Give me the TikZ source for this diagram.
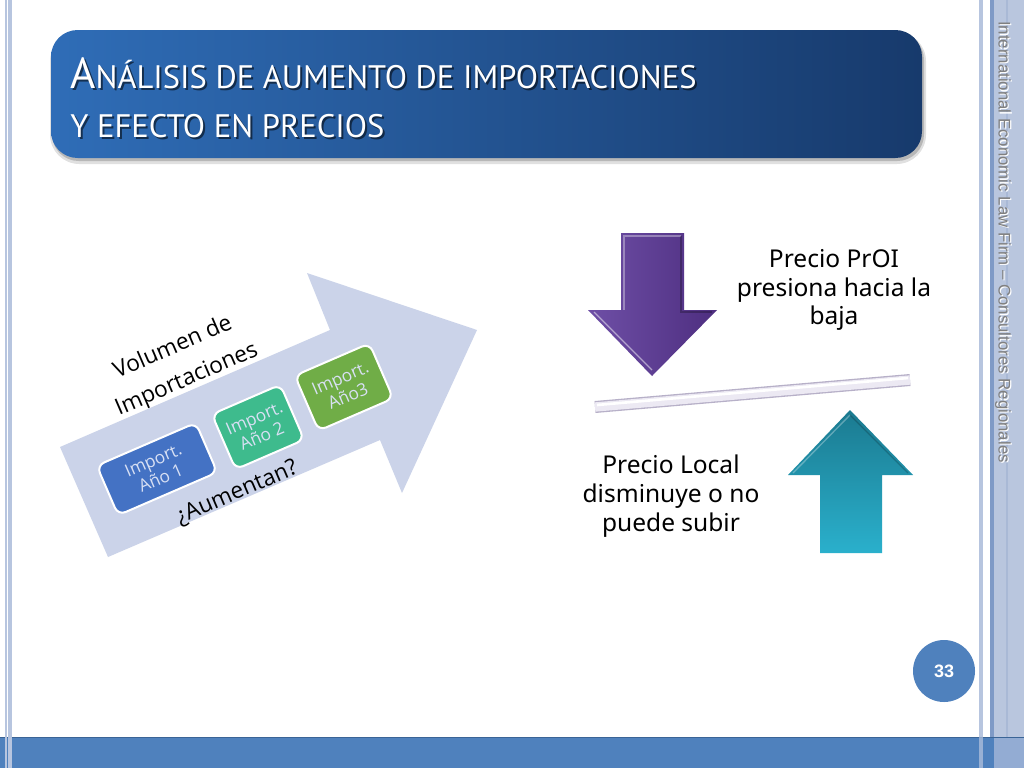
\documentclass[tikz,border=0pt]{standalone}
\usepackage{fontspec}
\usetikzlibrary{calc}
\setmainfont{Open Sans}
\newfontfamily\titlefont{PT Sans}
\newfontfamily\bodyfont{Noto Sans}
\newfontfamily\sidefont{Liberation Sans}
\definecolor{band}{HTML}{B9C6DE}
\definecolor{bandline}{HTML}{A9B9D6}
\definecolor{lineA}{HTML}{B7C5DF}
\definecolor{lineB}{HTML}{7F9AC6}
\definecolor{barblue}{HTML}{4F81BD}
\definecolor{bardark}{HTML}{3A6496}
\definecolor{barlight}{HTML}{93ACD3}
\definecolor{titleL}{HTML}{2F6DB7}
\definecolor{titleR}{HTML}{173A6C}
\definecolor{arrowbg}{HTML}{CBD3E9}
\definecolor{boxA}{HTML}{4472C4}
\definecolor{boxB}{HTML}{3EBB8D}
\definecolor{boxC}{HTML}{70AD47}
\definecolor{boxtext}{HTML}{D8E0F4}
\definecolor{purpL}{HTML}{6E4FA6}
\definecolor{purpR}{HTML}{4E2E80}
\definecolor{tealT}{HTML}{1B7A90}
\definecolor{tealB}{HTML}{2AB0CC}
\definecolor{barfill}{HTML}{ECE9F3}
\definecolor{baredge}{HTML}{B7B0C8}
\definecolor{sidegray}{HTML}{808080}
\newcommand{\scA}[1]{{\fontsize{32.5}{32.5}\selectfont #1}}
\newcommand{\scB}[1]{{\fontsize{24.4}{24.4}\selectfont #1}}
\tikzset{
  yearbox/.style={draw=white, line width=1.5pt, rounded corners=6pt, rotate=23.4,
    text=boxtext, align=center, font=\fontsize{13}{14.5}\selectfont, inner sep=1pt},
  rottext/.style={rotate=23.4, align=center, text=black, font=\fontsize{17}{26}\selectfont},
  pricetext/.style={align=center, text=black, font=\bodyfont\fontsize{18.4}{21.5}\selectfont},
  titletext/.style={anchor=base west, font=\titlefont, inner sep=0pt}
}
\begin{document}
\begin{tikzpicture}[x=0.75pt,y=-0.75pt]
\useasboundingbox (0,0) rectangle (1024,768);
\fill[white] (0,0) rectangle (1024,768);
% side band and lines
\fill[band] (994,0) rectangle (1024,768);
\fill[bandline] (1006,0) rectangle (1008,768);
\fill[lineA] (979,0) rectangle (983,768);
\fill[lineB] (990,0) rectangle (994,768);
% bottom bar
\fill[barblue] (0,737) rectangle (994,768);
\fill[barlight] (994,737) rectangle (1024,768);
\draw[bardark, line width=1.2pt] (0,737.5) -- (1024,737.5);
\fill[lineA, opacity=0.7] (979,737) rectangle (983,768);
% left lines
\fill[lineA] (4.7,0) rectangle (6.7,768);
\fill[lineA] (8,0) rectangle (12,768);
% side text
\node[rotate=-90, text=white, font=\sidefont\fontsize{12.6}{12.6}\selectfont] at (1004.2,243.2) {International Economic Law Firm – Consultores Regionales};
\node[rotate=-90, text=sidegray, font=\sidefont\fontsize{12.6}{12.6}\selectfont] (side) at (1003,242) {International Economic Law Firm – Consultores Regionales};
% title box
\fill[black, opacity=0.12, rounded corners=22] (50,32) rectangle (926,164);
\fill[black, opacity=0.18, rounded corners=20] (52,33) rectangle (924,161);
\shade[left color=titleL, right color=titleR, rounded corners=20] (51,30) rectangle (922,158);
\node[titletext, text=black, opacity=0.55] at (72,90) {\scA{A}\scB{NÁLISIS DE AUMENTO DE IMPORTACIONES}};
\node[titletext, text=white] (title1) at (70,88) {\scA{A}\scB{NÁLISIS DE AUMENTO DE IMPORTACIONES}};
\node[titletext, text=black, opacity=0.55] at (72,139) {\scB{Y EFECTO EN PRECIOS}};
\node[titletext, text=white] (title2) at (70,137) {\scB{Y EFECTO EN PRECIOS}};
% big arrow
\fill[arrowbg] (60,447) -- (330,330) -- (307,273) -- (477,330) -- (402,493) -- (380,440) -- (108,557) -- cycle;
% year boxes
\node[yearbox, fill=boxA, minimum width=81pt, minimum height=40.5pt] (b1) at (157,469) {Import.\\Año 1};
\node[yearbox, fill=boxB, minimum width=56pt, minimum height=45pt] (b2) at (258,427) {Import.\\Año 2};
\node[yearbox, fill=boxC, minimum width=61pt, minimum height=45pt] (b3) at (344,387) {Import.\\Año3};
\node[rottext] (vol) at (180,364) {Volumen de\\Importaciones};
\node[rottext] (aum) at (237,493) {¿Aumentan?};
% purple down arrow
\shade[left color=purpL, right color=purpR] (621,233) -- (684,233) -- (684,310) -- (717,310) -- (652,376) -- (588,310) -- (621,310) -- cycle;
\draw[white, opacity=0.35, line width=1pt] (624,310) -- (624,236) -- (681,236);
\draw[white, opacity=0.5, line width=1pt] (594,312) -- (652,370);
\draw[black, opacity=0.25, line width=1pt] (681,236) -- (681,312) -- (712,312);
% teal up arrow
\shade[top color=tealT, bottom color=tealB] (850,410) -- (913,475) -- (882,475) -- (882,553) -- (820,553) -- (820,475) -- (788,475) -- cycle;
\draw[white, opacity=0.3, line width=1pt] (793,473) -- (850,415);
\draw[black, opacity=0.2, line width=1pt] (850,415) -- (908,473);
% balance bar
\coordinate (bl) at (595,407);
\coordinate (br) at (910,380);
\draw[baredge, line width=9pt] (bl) -- (br);
\draw[barfill, line width=7pt] (bl) -- (br);
\draw[white, line width=2pt] ($(bl)+(2,-2)$) -- ($(br)+(-2,-2)$);
% price texts
\node[pricetext] (t1) at (834,290) {Precio PrOI\\presiona hacia la\\baja};
\node[pricetext] (t2) at (671,496) {Precio Local\\disminuye o no\\puede subir};
% slide number
\node[circle, fill=barblue, minimum size=46.5pt, inner sep=0pt, text=white, font=\sidefont\bfseries\fontsize{13.5}{13.5}\selectfont] (num) at (944,671) {33};
\end{tikzpicture}
\end{document}
